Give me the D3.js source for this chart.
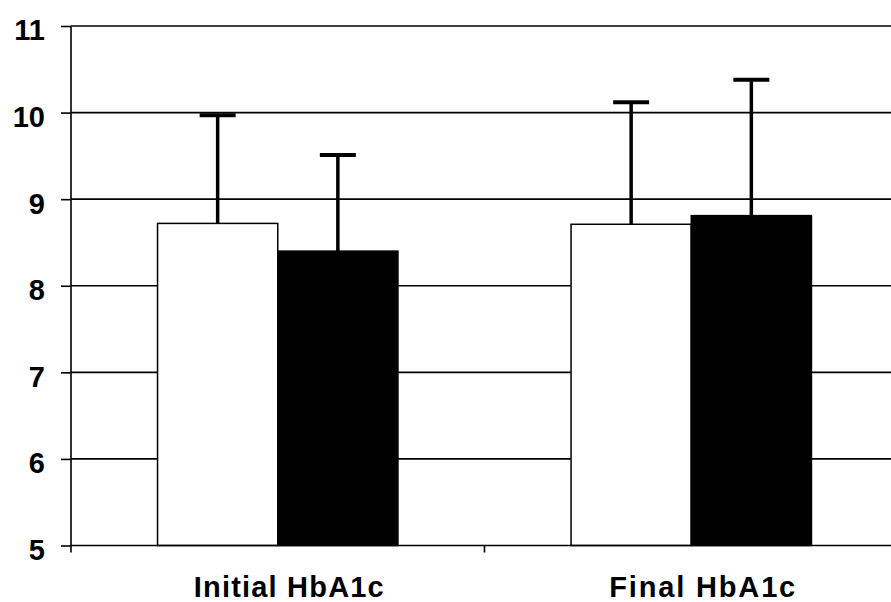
<!DOCTYPE html>
<html>
<head>
<meta charset="utf-8">
<script src="https://cdn.jsdelivr.net/npm/d3@7"></script>
<style>
  body { margin: 0; background: #fff; }
  svg { display: block; }
</style>
</head>
<body>
<div id="chart"></div>
<script>
var width = 891,
    height = 602;

// data
var categories = ["Initial HbA1c", "Final HbA1c"];
var series = ["Group 1", "Group 2"];
var means = [[8.72, 8.40], [8.71, 8.81]];
var upper = [[9.97, 9.51], [10.12, 10.38]];
var yTicks = [5, 6, 7, 8, 9, 10, 11];

var fill = { "Group 1": "#fff", "Group 2": "#000" };

var svg = d3.select("#chart").append("svg")
    .attr("width", width)
    .attr("height", height);

var x = d3.scaleBand()
    .domain(categories)
    .range([71, 898]);

var sub = d3.scaleBand()
    .domain(series)
    .range([0, x.bandwidth()])
    .paddingInner(0)
    .paddingOuter(0.72);

var y = d3.scaleLinear()
    .domain([5, 11])
    .range([545.5, 26]);

// gridlines
svg.append("g")
  .selectAll("line")
  .data(yTicks.slice(1))
  .join("line")
    .attr("x1", 71)
    .attr("x2", 898)
    .attr("y1", function(d) { return y(d); })
    .attr("y2", function(d) { return y(d); })
    .attr("stroke", "#000")
    .attr("stroke-width", 1.6);

// bars
var rows = [];
categories.forEach(function(c, i) {
  series.forEach(function(s, j) {
    rows.push({ cat: c, s: s, v: means[i][j], hi: upper[i][j] });
  });
});

svg.append("g")
  .selectAll("rect")
  .data(rows)
  .join("rect")
    .attr("x", function(d) { return x(d.cat) + sub(d.s); })
    .attr("y", function(d) { return y(d.v); })
    .attr("width", sub.bandwidth())
    .attr("height", function(d) { return y(5) - y(d.v); })
    .attr("fill", function(d) { return fill[d.s]; })
    .attr("stroke", "#000")
    .attr("stroke-width", 1.5);

// error bars (upper only)
var err = svg.append("g");
err.selectAll("line.stem")
  .data(rows)
  .join("line")
    .attr("class", "stem")
    .attr("x1", function(d) { return x(d.cat) + sub(d.s) + sub.bandwidth() / 2; })
    .attr("x2", function(d) { return x(d.cat) + sub(d.s) + sub.bandwidth() / 2; })
    .attr("y1", function(d) { return y(d.v); })
    .attr("y2", function(d) { return y(d.hi); })
    .attr("stroke", "#000")
    .attr("stroke-width", 3.5);

err.selectAll("line.cap")
  .data(rows)
  .join("line")
    .attr("class", "cap")
    .attr("x1", function(d) { return x(d.cat) + sub(d.s) + sub.bandwidth() / 2 - 18; })
    .attr("x2", function(d) { return x(d.cat) + sub(d.s) + sub.bandwidth() / 2 + 18; })
    .attr("y1", function(d) { return y(d.hi); })
    .attr("y2", function(d) { return y(d.hi); })
    .attr("stroke", "#000")
    .attr("stroke-width", 4);

// y axis
var yAxis = svg.append("g")
    .attr("transform", "translate(71,0)")
    .call(d3.axisLeft(y).tickValues(yTicks).tickFormat(d3.format("d"))
      .tickSize(10).tickPadding(16).tickSizeOuter(0));
yAxis.select(".domain").attr("stroke-width", 1.6)
    .attr("d", "M0," + y(11) + "V" + (y(5) + 7));
yAxis.selectAll(".tick line").attr("stroke-width", 1.6);
yAxis.selectAll(".tick text")
    .attr("font-family", "Liberation Sans, Arial, sans-serif")
    .attr("font-size", "29px")
    .attr("font-weight", "bold")
    .attr("fill", "#000")
    .attr("dy", "0.48em");

// x axis line and category dividers
svg.append("line")
    .attr("x1", 71)
    .attr("x2", 898)
    .attr("y1", y(5))
    .attr("y2", y(5))
    .attr("stroke", "#000")
    .attr("stroke-width", 1.6);

svg.append("g")
  .selectAll("line")
  .data(categories.slice(1))
  .join("line")
    .attr("x1", function(d) { return x(d); })
    .attr("x2", function(d) { return x(d); })
    .attr("y1", y(5))
    .attr("y2", y(5) + 7)
    .attr("stroke", "#000")
    .attr("stroke-width", 1.6);

svg.append("g")
  .selectAll("text")
  .data(categories)
  .join("text")
    .attr("x", function(d) { return x(d) + x.bandwidth() / 2 + 11; })
    .attr("y", 597)
    .attr("text-anchor", "middle")
    .attr("font-family", "Liberation Sans, Arial, sans-serif")
    .attr("font-size", "29px")
    .attr("font-weight", "bold")
    .attr("textLength", function(d, i) { return i == 0 ? 190 : 186; })
    .text(function(d) { return d; });
</script>
</body>
</html>
